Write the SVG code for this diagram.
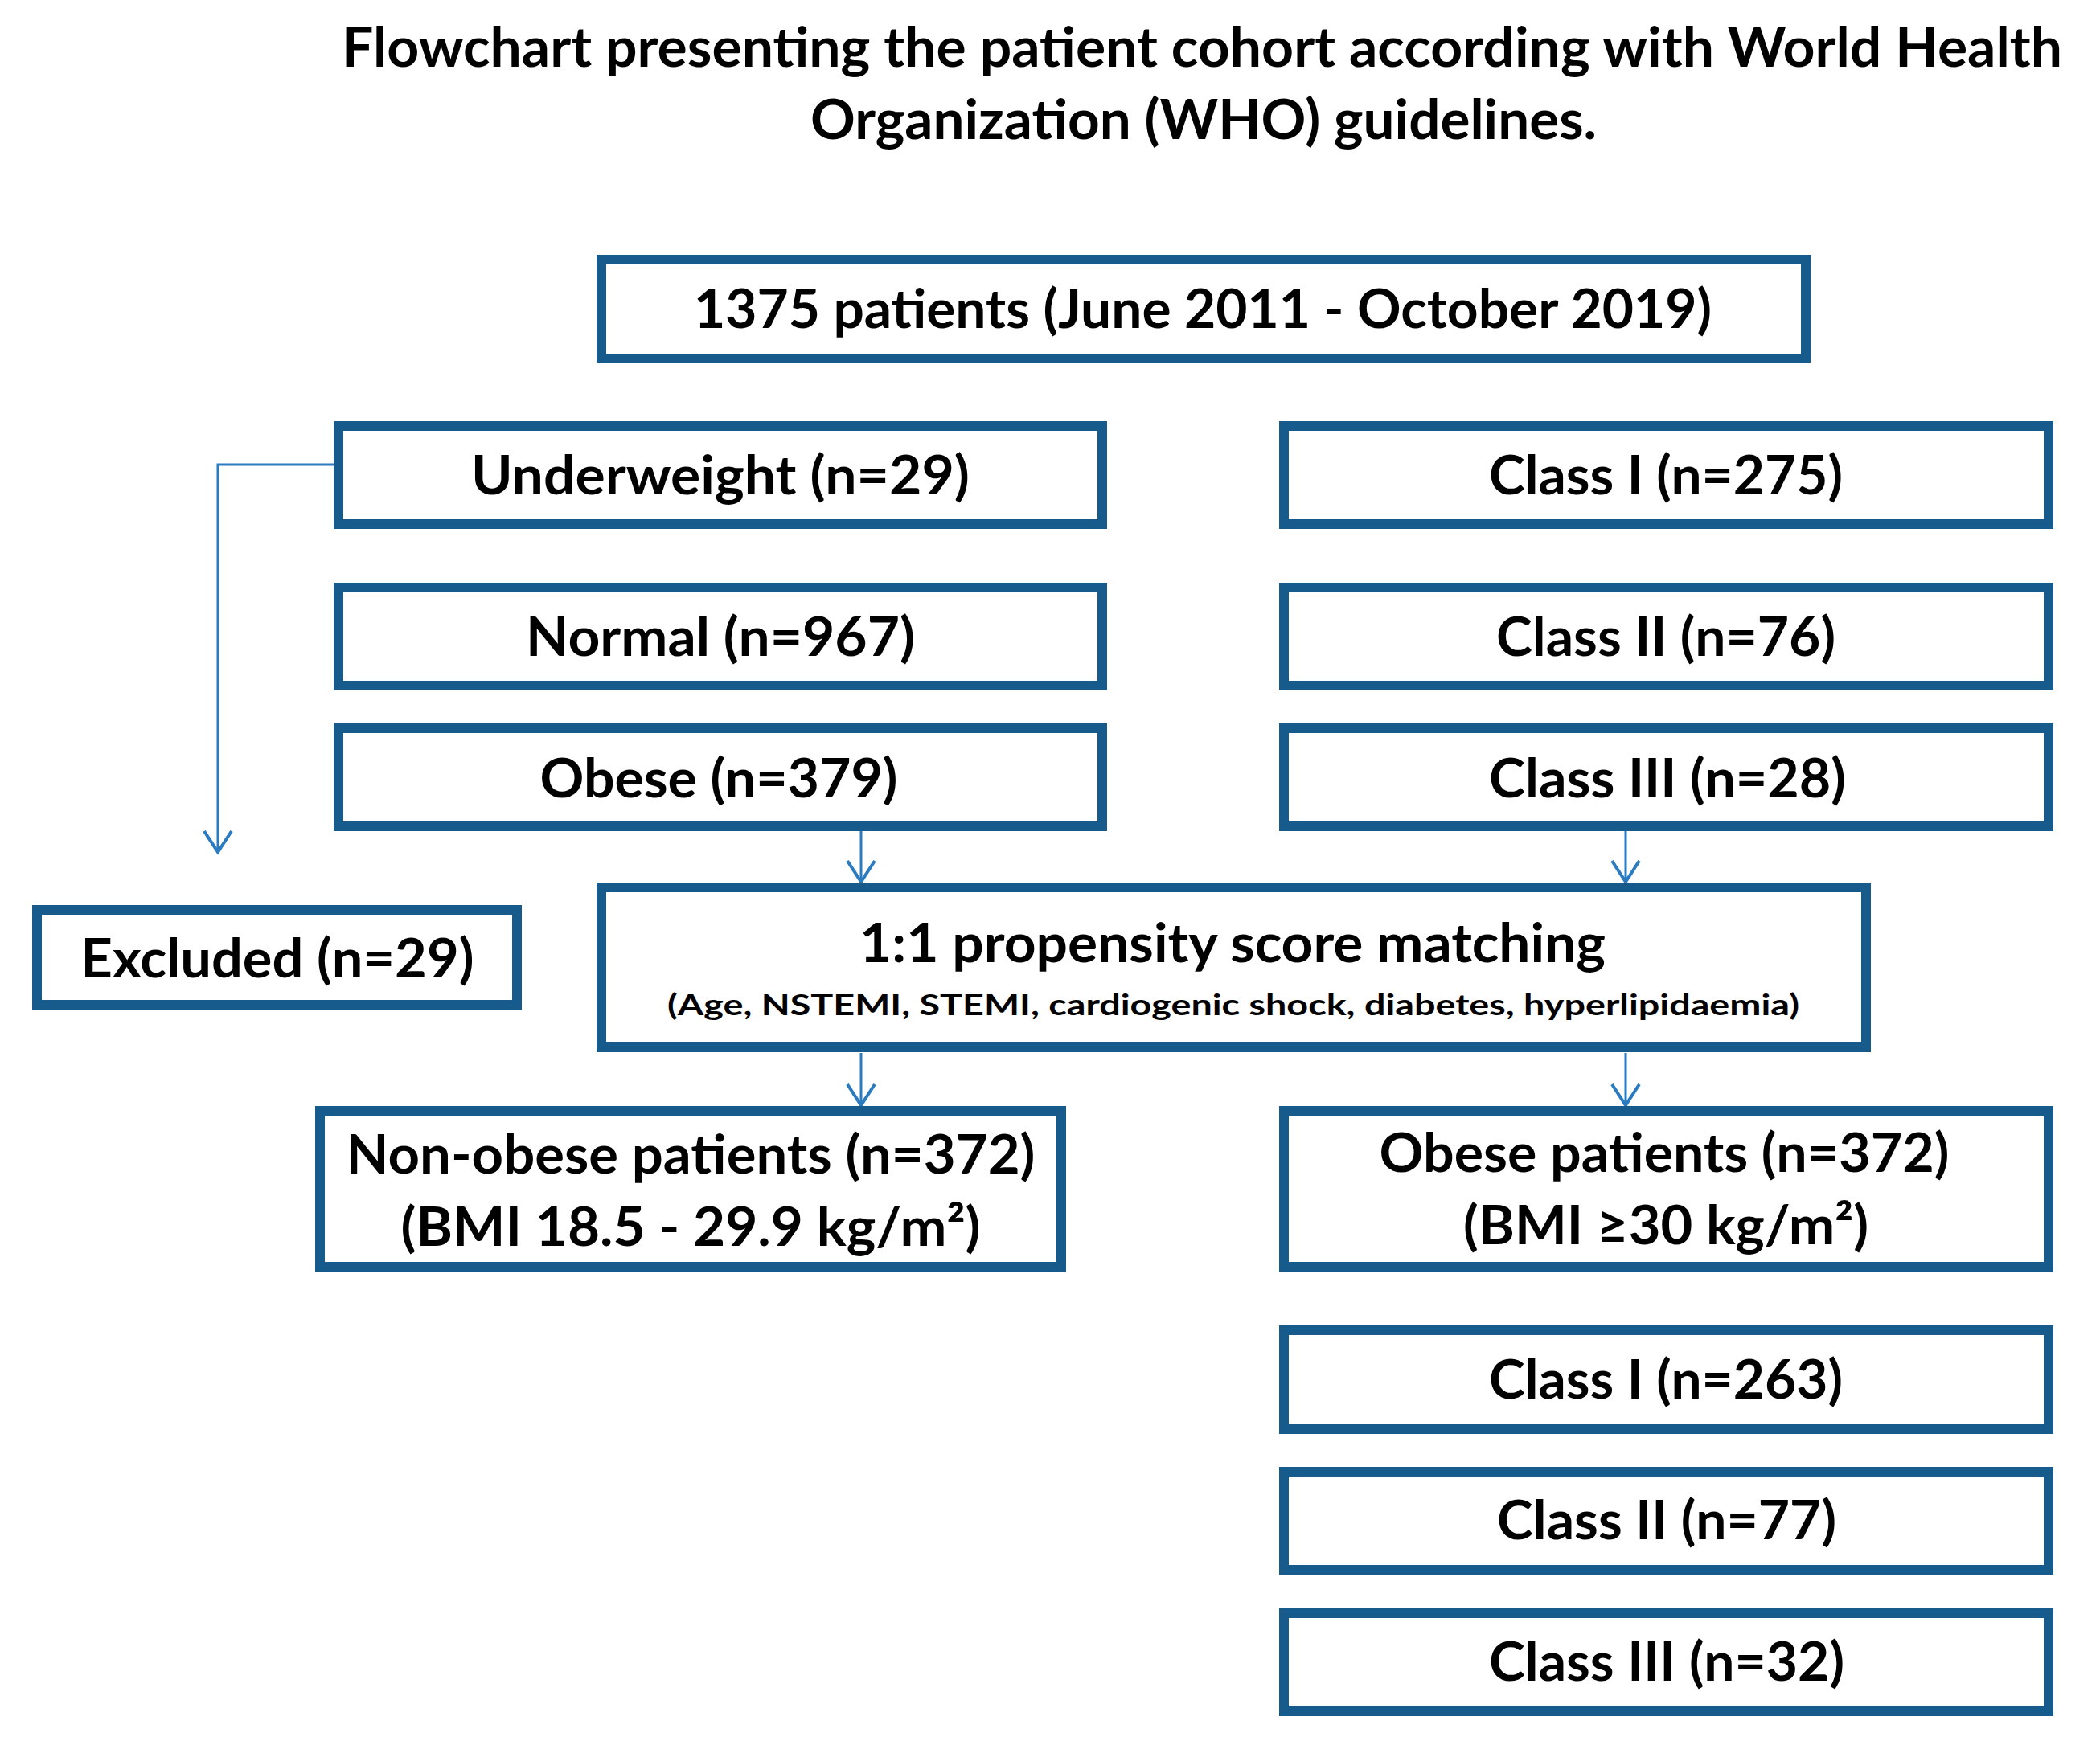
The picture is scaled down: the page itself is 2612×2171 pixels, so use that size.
<svg xmlns="http://www.w3.org/2000/svg" width="2612" height="2171" viewBox="0 0 2612 2171">
<style>
  .box { fill: #ffffff; stroke: #175B8C; stroke-width: 12; }
  .t { font-family: Lato, "Open Sans", "Liberation Sans", sans-serif; font-weight: bold; fill: #000000; text-anchor: middle; font-size: 66px; }
  .title { font-size: 69px; }
  .small { font-size: 36px; }
  .conn { fill: none; stroke: #2B7BC0; stroke-width: 3; }
</style>
<defs>
  <marker id="arrow" markerUnits="userSpaceOnUse" markerWidth="60" markerHeight="60" viewBox="-30 -30 60 60" refX="0" refY="0" orient="auto">
    <path d="M -26 -17 L 0 0 L -26 17" fill="none" stroke="#2B7BC0" stroke-width="4"/>
  </marker>
</defs>
<rect x="0" y="0" width="2612" height="2171" fill="#ffffff"/>

<g id="title">
  <text class="t title" x="1495" y="83" textLength="2140" lengthAdjust="spacingAndGlyphs">Flowchart presenting the patient cohort according with World Health</text>
  <text class="t title" x="1497" y="173" textLength="978" lengthAdjust="spacingAndGlyphs">Organization (WHO) guidelines.</text>
</g>

<g id="connectors">
  <path class="conn" d="M 415 578 H 271 V 1060" marker-end="url(#arrow)"/>
  <path class="conn" d="M 1071 1034 V 1097" marker-end="url(#arrow)"/>
  <path class="conn" d="M 2022 1034 V 1097" marker-end="url(#arrow)"/>
  <path class="conn" d="M 1071 1310 V 1375" marker-end="url(#arrow)"/>
  <path class="conn" d="M 2022 1310 V 1375" marker-end="url(#arrow)"/>
</g>

<g id="node-total">
  <rect class="box" x="748" y="323" width="1498" height="123"/>
  <text class="t" x="1496" y="408" textLength="1266" lengthAdjust="spacingAndGlyphs">1375 patients (June 2011 - October 2019)</text>
</g>

<g id="node-underweight">
  <rect class="box" x="421" y="530" width="950" height="122"/>
  <text class="t" x="896" y="615" textLength="620" lengthAdjust="spacingAndGlyphs">Underweight (n=29)</text>
</g>
<g id="node-normal">
  <rect class="box" x="421" y="731" width="950" height="122"/>
  <text class="t" x="896" y="816" textLength="484" lengthAdjust="spacingAndGlyphs">Normal (n=967)</text>
</g>
<g id="node-obese">
  <rect class="box" x="421" y="906" width="950" height="122"/>
  <text class="t" x="894" y="992" textLength="445" lengthAdjust="spacingAndGlyphs">Obese (n=379)</text>
</g>

<g id="node-class1-pre">
  <rect class="box" x="1597" y="530" width="951" height="122"/>
  <text class="t" x="2072" y="615" textLength="440" lengthAdjust="spacingAndGlyphs">Class I (n=275)</text>
</g>
<g id="node-class2-pre">
  <rect class="box" x="1597" y="731" width="951" height="122"/>
  <text class="t" x="2072" y="816" textLength="422" lengthAdjust="spacingAndGlyphs">Class II (n=76)</text>
</g>
<g id="node-class3-pre">
  <rect class="box" x="1597" y="906" width="951" height="122"/>
  <text class="t" x="2074" y="992" textLength="444" lengthAdjust="spacingAndGlyphs">Class III (n=28)</text>
</g>

<g id="node-excluded">
  <rect class="box" x="46" y="1132" width="597" height="118"/>
  <text class="t" x="345" y="1216" textLength="489" lengthAdjust="spacingAndGlyphs">Excluded (n=29)</text>
</g>

<g id="node-matching">
  <rect class="box" x="748" y="1104" width="1573" height="199"/>
  <text class="t" x="1533" y="1197" textLength="928" lengthAdjust="spacingAndGlyphs">1:1 propensity score matching</text>
  <text class="t small" x="1534" y="1263" textLength="1408" lengthAdjust="spacingAndGlyphs">(Age, NSTEMI, STEMI, cardiogenic shock, diabetes, hyperlipidaemia)</text>
</g>

<g id="node-nonobese">
  <rect class="box" x="398" y="1382" width="922" height="194"/>
  <text class="t" x="859" y="1460" textLength="857" lengthAdjust="spacingAndGlyphs">Non-obese patients (n=372)</text>
  <text class="t" x="859" y="1550" textLength="721" lengthAdjust="spacingAndGlyphs">(BMI 18.5 - 29.9 kg/m²)</text>
</g>

<g id="node-obesepatients">
  <rect class="box" x="1597" y="1382" width="951" height="194"/>
  <text class="t" x="2070" y="1458" textLength="709" lengthAdjust="spacingAndGlyphs">Obese patients (n=372)</text>
  <text class="t" x="2072" y="1548" textLength="504" lengthAdjust="spacingAndGlyphs">(BMI ≥30 kg/m²)</text>
</g>

<g id="node-class1-post">
  <rect class="box" x="1597" y="1655" width="951" height="123"/>
  <text class="t" x="2072" y="1740" textLength="440" lengthAdjust="spacingAndGlyphs">Class I (n=263)</text>
</g>
<g id="node-class2-post">
  <rect class="box" x="1597" y="1831" width="951" height="122"/>
  <text class="t" x="2073" y="1915" textLength="422" lengthAdjust="spacingAndGlyphs">Class II (n=77)</text>
</g>
<g id="node-class3-post">
  <rect class="box" x="1597" y="2007" width="951" height="122"/>
  <text class="t" x="2073" y="2091" textLength="442" lengthAdjust="spacingAndGlyphs">Class III (n=32)</text>
</g>
</svg>
